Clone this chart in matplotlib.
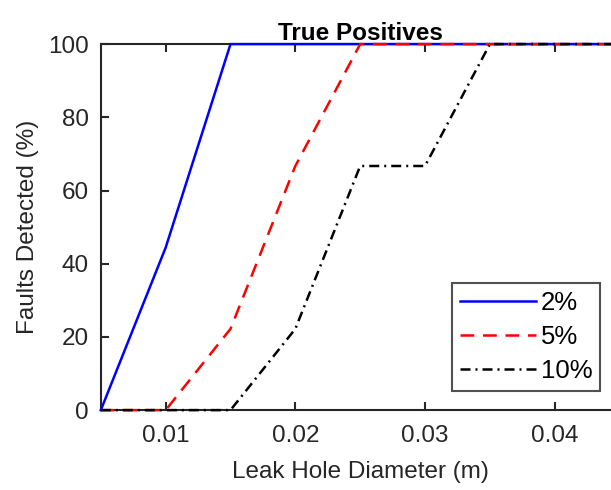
import matplotlib.pyplot as plt

plt.rcParams['font.family'] = ['Liberation Sans', 'DejaVu Sans']

# leak hole diameters (m) and detection rates (%) per noise level
diameter = [0.005, 0.01, 0.015, 0.02, 0.025, 0.03, 0.035, 0.04, 0.045]
tp_2 = [0, 44.4, 100, 100, 100, 100, 100, 100, 100]
tp_5 = [0, 0, 22.2, 66.7, 100, 100, 100, 100, 100]
tp_10 = [0, 0, 0, 22.2, 66.7, 66.7, 100, 100, 100]
labels = ['2%', '5%', '10%']

fig = plt.figure(figsize=(6.11, 4.90), dpi=100)
ax = fig.add_axes([0.165, 0.163, 0.849, 0.747])

ax.plot(diameter, tp_2, color='#0000ff', lw=1.8, ls='-', label=labels[0],
        clip_on=False, zorder=3)
ax.plot(diameter, tp_5, color='#ff0000', lw=1.8, ls=(0, (5.5, 3.5)), label=labels[1],
        clip_on=False, zorder=3)
ax.plot(diameter, tp_10, color='black', lw=1.8, ls=(0, (4, 2, 0.8, 2)), label=labels[2],
        clip_on=False, zorder=3)

ax.set_xlim(0.005, 0.045)
ax.set_ylim(0, 100)
ax.set_xticks([0.01, 0.02, 0.03, 0.04])
ax.set_xticklabels(['0.01', '0.02', '0.03', '0.04'])
ax.set_yticks([0, 20, 40, 60, 80, 100])

for s in ax.spines.values():
    s.set_color('#262626')
    s.set_linewidth(1.5)
ax.tick_params(direction='in', top=True, right=True, length=5.5, width=1.5,
               colors='#262626', labelsize=17.5)
ax.tick_params(axis='x', pad=11)
ax.tick_params(axis='y', pad=8.5)

ax.set_xlabel('Leak Hole Diameter (m)', fontsize=17.5, color='#262626', labelpad=10)
ax.set_ylabel('Faults Detected (%)', fontsize=17.5, color='#262626', labelpad=7)
ax.set_title('True Positives', fontsize=17.5, fontweight='bold', pad=3)

leg = ax.legend(loc='lower right', bbox_to_anchor=(0.963, 0.052), fontsize=18.5,
                frameon=True, fancybox=False, handlelength=2.95,
                handletextpad=0.2, borderpad=0.3, labelspacing=0.4,
                borderaxespad=0)
leg.get_frame().set_edgecolor('#262626')
leg.get_frame().set_linewidth(1.5)

fig.savefig('out.png', dpi=100)
